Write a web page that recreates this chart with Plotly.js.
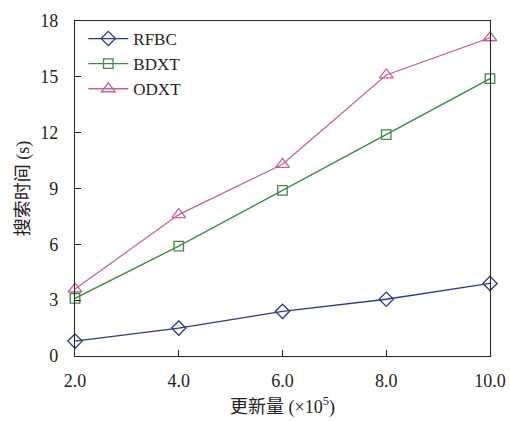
<!DOCTYPE html>
<html><head><meta charset="utf-8">
<script src="https://cdn.plot.ly/plotly-3.0.1.min.js"></script>
<style>html,body{margin:0;padding:0;background:#fff}#c{width:510px;height:421px}</style>
</head><body><div id="c"></div>
<script>
const xVals = [2, 4, 6, 8, 10];
const xTickLabels = ['2.0', '4.0', '6.0', '8.0', '10.0'];
const rfbc = [0.8, 1.5, 2.4, 3.05, 3.9];
const bdxt = [3.1, 5.9, 8.9, 11.9, 14.9];
const odxt = [3.6, 7.6, 10.3, 15.1, 17.1];

const F = '"Liberation Serif", "Noto Sans CJK SC", serif';
const mk = (name, y, color, symbol, size) => ({
  x: xVals, y: y, name: name, type: 'scatter', mode: 'lines+markers',
  line: {color: color, width: 1.3},
  marker: {symbol: symbol, size: size, color: color, line: {color: color, width: 1.3}},
  cliponaxis: false
});
const data = [
  mk('RFBC', rfbc, '#2d3a8c', 'diamond-open', 11),
  mk('BDXT', bdxt, '#3d8b45', 'square-open', 9.5),
  mk('ODXT', odxt, '#c0649e', 'triangle-up-open', 12)
];
const layout = {
  width: 510, height: 421,
  margin: {l: 75, r: 20, t: 21, b: 65},
  paper_bgcolor: '#fff', plot_bgcolor: '#fff',
  font: {family: F, size: 18, color: '#222'},
  showlegend: true,
  legend: {x: 0.02, y: 1.0, xanchor: 'left', yanchor: 'top', bgcolor: 'rgba(0,0,0,0)', font: {size: 17}, tracegroupgap: 0, itemwidth: 40},
  xaxis: {
    range: [2, 10], tickvals: xVals, ticktext: xTickLabels,
    ticks: 'inside', ticklen: 6, tickcolor: '#222', showgrid: false, zeroline: false,
    showline: true, linecolor: '#222', linewidth: 1.2, mirror: true,
    ticklabelstandoff: 8,
    title: {text: '更新量 (×10<sup>5</sup>)', font: {size: 18}, standoff: 10},
    tickfont: {size: 18}
  },
  yaxis: {
    range: [0, 18], tickvals: [0, 3, 6, 9, 12, 15, 18],
    ticks: 'inside', ticklen: 6, tickcolor: '#222', showgrid: false, zeroline: false,
    showline: true, linecolor: '#222', linewidth: 1.2, mirror: true,
    ticklabelstandoff: 12,
    title: {text: '搜索时间 (s)', font: {size: 18}, standoff: 6},
    tickfont: {size: 18}
  }
};
Plotly.newPlot('c', data, layout, {displayModeBar: false, staticPlot: true});
</script></body></html>
